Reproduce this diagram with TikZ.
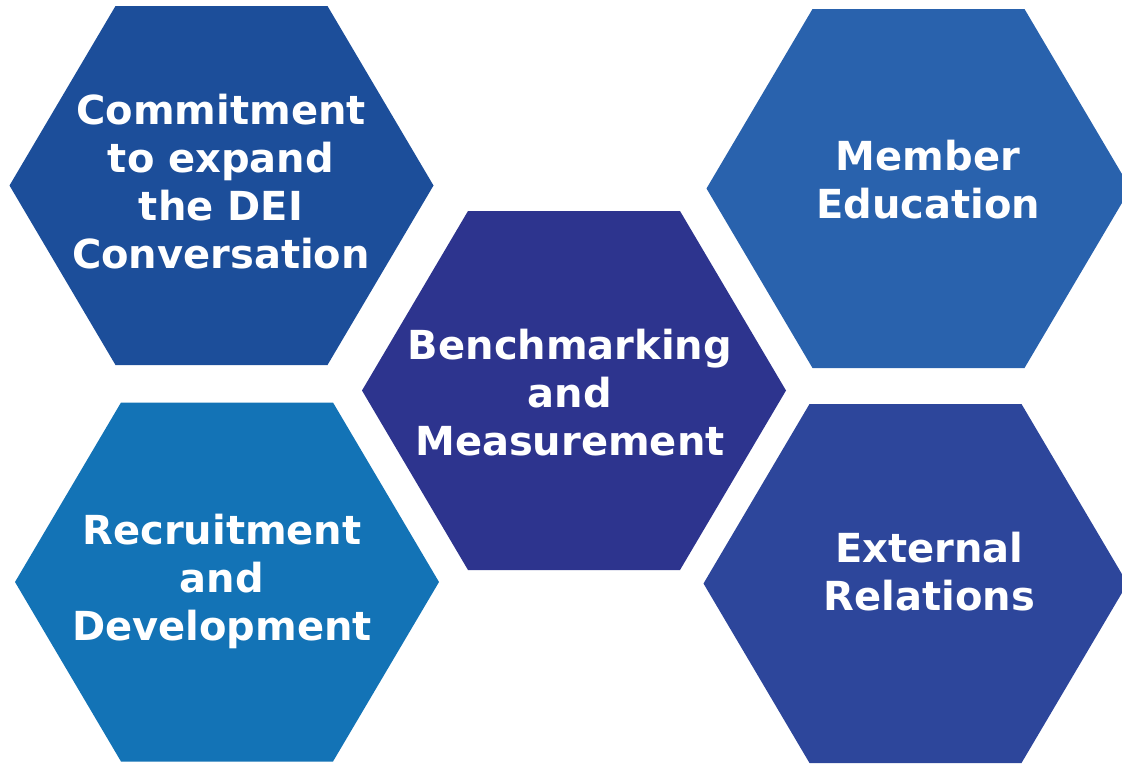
\documentclass[tikz,border=0pt]{standalone}
\usepackage{fontspec}
\setmainfont{DejaVu Sans}
\definecolor{commitblue}{HTML}{1C4E9A}
\definecolor{benchblue}{HTML}{2D348E}
\definecolor{memberblue}{HTML}{2962AD}
\definecolor{recruitblue}{HTML}{1373B6}
\definecolor{externalblue}{HTML}{2D469B}
\tikzstyle{celltext} = [text=white, align=center, inner sep=0pt,
  font={\bfseries\fontsize{40}{48}\selectfont}]
% flat-topped hexagon round centre (#1,#2)
\newcommand{\hexat}[2]{(#1-212,#2) -- (#1-106,#2-179.5) -- (#1+106,#2-179.5)
  -- (#1+212,#2) -- (#1+106,#2+179.5) -- (#1-106,#2+179.5) -- cycle}

\begin{document}
\begin{tikzpicture}[x=1pt, y=-1pt]
      \useasboundingbox (0,0) rectangle (1122,764);
      \clip (0,0) rectangle (1122,764);
      % cells
      \fill [commitblue]   \hexat{221.5}{185.5};
      \fill [benchblue]    \hexat{574}{390.5};
      \fill [memberblue]   \hexat{918.5}{188.5};
      \fill [recruitblue]  \hexat{227}{582};
      \fill [externalblue] \hexat{915.5}{583.5};
      % texts
      \node [celltext] at (221,182) (commit)
        {Commitment\\ to expand\\ the DEI\\ Conversation};
      \node [celltext] at (570,392.5) (bench)
        {Benchmarking\\ and\\ Measurement};
      \node [celltext] at (928,180) (member)
        {Member\\ Education};
      \node [celltext] at (222,581) (recruit)
        {Recruitment\\ and\\ Development};
      \node [celltext] at (929.5,571.5) (external)
        {External\\ Relations};
    \end{tikzpicture}
\end{document}
